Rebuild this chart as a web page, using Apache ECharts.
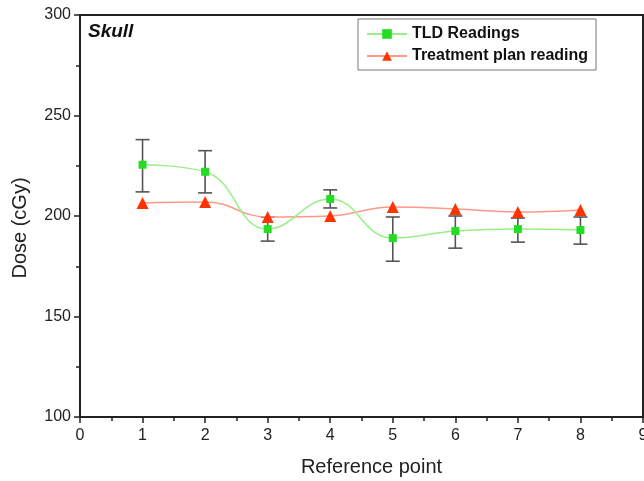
<!DOCTYPE html>
<html>
<head>
<meta charset="utf-8">
<script src="https://cdn.jsdelivr.net/npm/echarts@6/dist/echarts.min.js"></script>
<style>html,body{margin:0;padding:0;background:#fff}#c{width:644px;height:481px}</style>
</head>
<body>
<div id="c"></div>
<script>
const refPoints = [1, 2, 3, 4, 5, 6, 7, 8];
const tldReadings = [225.5, 222, 193.5, 208.5, 189, 192.5, 193.5, 193];
const tldErrLow = [212, 211.5, 187.5, 204, 177.5, 184, 187, 186];
const tldErrHigh = [238, 232.5, 199.5, 213, 199.5, 200, 199, 199.5];
const planReadings = [206.5, 207, 199.5, 200, 204.5, 203.5, 202, 203];
const xTicks = [0, 1, 2, 3, 4, 5, 6, 7, 8, 9];
const yTicks = [100, 150, 200, 250, 300];

const chart = echarts.init(document.getElementById('c'), null, {renderer: 'canvas'});
const font = 'Liberation Sans, Arial, sans-serif';

const errData = refPoints.map((x, i) => [x, tldErrLow[i], tldErrHigh[i]]);

chart.setOption({
  animation: false,
  backgroundColor: '#fff',
  grid: {left: 80, right: 1, top: 15, bottom: 64, show: true, borderColor: '#222', borderWidth: 2,
         outerBoundsMode: 'none', containLabel: false},
  title: {
    text: 'Skull', left: 88, top: 22, padding: 0,
    textStyle: {fontFamily: font, fontSize: 19, fontWeight: 'bold', fontStyle: 'italic', color: '#111'}
  },
  legend: {
    orient: 'vertical', left: 358, top: 19,
    padding: [7, 8, 6, 8], itemGap: 6,
    borderColor: '#777', borderWidth: 1,
    itemWidth: 40, itemHeight: 12,
    textStyle: {fontFamily: font, fontSize: 16, fontWeight: 'bold', color: '#111'},
    data: ['TLD Readings', 'Treatment plan reading']
  },
  xAxis: {
    type: 'value', min: 0, max: 9, interval: 1,
    name: 'Reference point', nameLocation: 'middle', nameGap: 40,
    nameTextStyle: {fontFamily: font, fontSize: 20, color: '#222', padding: [0, 0, 0, 20]},
    axisLine: {show: true, lineStyle: {color: '#222', width: 2}},
    axisTick: {show: true, inside: false, length: 6, lineStyle: {color: '#222', width: 1.5}},
    minorTick: {show: true, splitNumber: 2, length: 4, lineStyle: {color: '#222', width: 1.5}},
    axisLabel: {fontFamily: font, fontSize: 16, color: '#222', margin: 11,
      formatter: v => xTicks.includes(v) ? String(v) : ''},
    splitLine: {show: false}
  },
  yAxis: {
    type: 'value', min: 100, max: 300, interval: 50,
    name: 'Dose (cGy)', nameLocation: 'middle', nameGap: 50,
    nameTextStyle: {fontFamily: font, fontSize: 20, color: '#222', padding: [0, 24, 0, 0]},
    axisLine: {show: true, lineStyle: {color: '#222', width: 2}},
    axisTick: {show: true, inside: false, length: 6, lineStyle: {color: '#222', width: 1.5}},
    minorTick: {show: true, splitNumber: 2, length: 4, lineStyle: {color: '#222', width: 1.5}},
    axisLabel: {fontFamily: font, fontSize: 16, color: '#222', margin: 9,
      formatter: v => yTicks.includes(v) ? String(v) : ''},
    splitLine: {show: false}
  },
  series: [
    {
      name: 'errbars', type: 'custom', z: 1,
      data: errData,
      renderItem: function (params, api) {
        const x = api.value(0);
        const lo = api.coord([x, api.value(1)]);
        const hi = api.coord([x, api.value(2)]);
        const hw = 7;
        const st = {stroke: '#555', lineWidth: 1.6};
        return {type: 'group', children: [
          {type: 'line', shape: {x1: lo[0], y1: lo[1], x2: hi[0], y2: hi[1]}, style: st},
          {type: 'line', shape: {x1: lo[0] - hw, y1: lo[1], x2: lo[0] + hw, y2: lo[1]}, style: st},
          {type: 'line', shape: {x1: hi[0] - hw, y1: hi[1], x2: hi[0] + hw, y2: hi[1]}, style: st}
        ]};
      }
    },
    {
      name: 'TLD Readings', type: 'line', z: 3, smooth: 0.45,
      data: refPoints.map((x, i) => [x, tldReadings[i]]),
      symbol: 'rect', symbolSize: 8,
      itemStyle: {color: '#22dd22'},
      lineStyle: {color: '#99ee88', width: 1.5}
    },
    {
      name: 'Treatment plan reading', type: 'line', z: 2, smooth: 0.45,
      data: refPoints.map((x, i) => [x, planReadings[i]]),
      symbol: 'triangle', symbolSize: 12,
      itemStyle: {color: '#ff3300'},
      lineStyle: {color: '#ff9988', width: 1.5}
    }
  ]
});
</script>
</body>
</html>
